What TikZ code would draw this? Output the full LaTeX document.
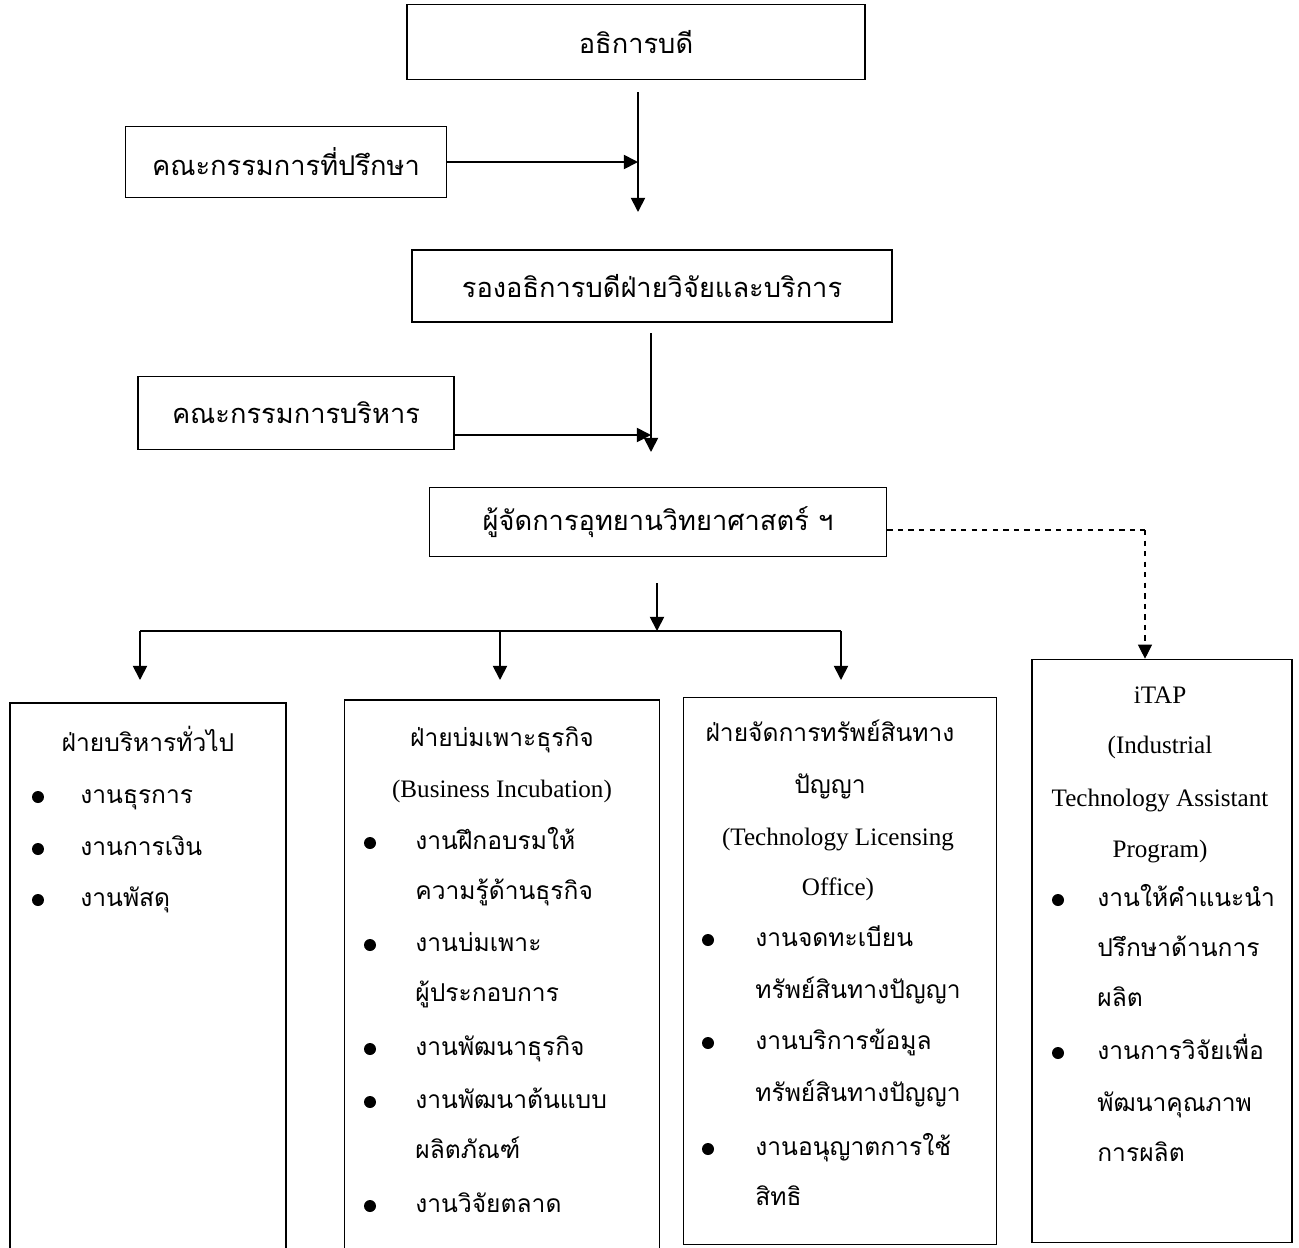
\documentclass[tikz,border=0pt]{standalone}
\usepackage{fontspec}
\setmainfont{Liberation Serif}
\newfontfamily\thaifont[Script=Thai]{Loma}
\usetikzlibrary{arrows.meta}

\begin{document}
\begin{tikzpicture}[x=0.02cm, y=-0.02cm,
    unit/.style={draw, line width=1pt, inner sep=0pt, font=\thaifont\fontsize{15.5}{18}\selectfont},
    division/.style={draw, line width=1pt, inner sep=0pt},
    thai/.style={inner sep=0pt, text height=7pt, text depth=0pt, font=\thaifont\fontsize{14}{16}\selectfont},
    eng/.style={inner sep=0pt, text height=7pt, text depth=0pt, font=\fontsize{14.3}{16}\selectfont},
    bullet/.style={circle, fill, inner sep=0pt, minimum size=0.24cm},
    arr/.style={line width=1pt, -{Triangle[length=8pt,width=8pt]}}]
   \useasboundingbox (0,0) rectangle (1299,1248);

   % upper chain
   \node[unit, minimum width=9.16cm, minimum height=1.5cm] (rector) at (636,42) {อธิการบดี};
   \node[unit, minimum width=6.42cm, minimum height=1.42cm] (advisor) at (286,162) {คณะกรรมการที่ปรึกษา};
   \node[unit, minimum width=9.6cm, minimum height=1.44cm] (vice) at (652,286) {รองอธิการบดีฝ่ายวิจัยและบริการ};
   \node[unit, minimum width=6.32cm, minimum height=1.46cm] (board) at (296,413) {คณะกรรมการบริหาร};
   \node[unit, minimum width=9.14cm, minimum height=1.38cm] (manager) at (658,522) {ผู้จัดการอุทยานวิทยาศาสตร์ ฯ};

   \coordinate (a1) at (638,92);
   \coordinate (a2) at (638,212);
   \coordinate (b1) at (651,333);
   \coordinate (b2) at (651,452);
   \coordinate (b3) at (651,435);
   \draw[arr] (a1) -- (a2);
   \draw[arr] (advisor.east) -- (advisor.east -| a2);
   \draw[arr] (b1) -- (b2);
   \draw[arr] (board.east |- b3) -- (b3);

   % divisions
   \node[division, minimum width=5.52cm, minimum height=11.2cm] (general) at (148,983) {};
   \node[division, minimum width=6.3cm, minimum height=11.2cm] (incub) at (502,980) {};
   \node[division, minimum width=6.26cm, minimum height=10.94cm] (tlo) at (840,971) {};
   \node[division, minimum width=5.2cm, minimum height=11.66cm] (itap) at (1162,951) {};

   \coordinate (c1) at (657,583);
   \coordinate (c2) at (657,631);
   \coordinate (c3) at (140,631);
   \coordinate (c4) at (841,631);
   \coordinate (c5) at (500,631);
   \coordinate (d1) at (1145,530);
   \draw[arr] (c1) -- (c2);
   \draw[line width=1pt] (c3) -- (c4);
   \draw[arr] (c3) -- (140,680);
   \draw[arr] (c5) -- (500,680);
   \draw[arr] (c4) -- (841,680);
   \draw[line width=0.6pt, dashed] (manager.east |- d1) -- (d1);
   \draw[line width=0.6pt, dashed, -{Triangle[length=8pt,width=8pt]}] (d1) -- (itap.north -| d1);

   % general administration
   \node[thai] (g0) at (148,745) {ฝ่ายบริหารทั่วไป};
   \node[bullet] (gb1) at (38,797) {};
   \node[bullet] (gb2) at (38,849) {};
   \node[bullet] (gb3) at (38,900) {};
   \node[thai, anchor=west] (g1) at (80,797) {งานธุรการ};
   \node[thai, anchor=west] (g2) at (80,849) {งานการเงิน};
   \node[thai, anchor=west] (g3) at (80,900) {งานพัสดุ};

   % business incubation
   \node[thai] (i0) at (502,740) {ฝ่ายบ่มเพาะธุรกิจ};
   \node[eng] (i1) at (502,791) {(Business Incubation)};
   \node[bullet] (ib1) at (370,843) {};
   \node[bullet] (ib2) at (370,945) {};
   \node[bullet] (ib3) at (370,1049) {};
   \node[bullet] (ib4) at (370,1102) {};
   \node[bullet] (ib5) at (370,1206) {};
   \node[thai, anchor=west] (i2) at (415,843) {งานฝึกอบรมให้};
   \node[thai, anchor=west] (i3) at (415,893) {ความรู้ด้านธุรกิจ};
   \node[thai, anchor=west] (i4) at (415,945) {งานบ่มเพาะ};
   \node[thai, anchor=west] (i5) at (415,995) {ผู้ประกอบการ};
   \node[thai, anchor=west] (i6) at (415,1049) {งานพัฒนาธุรกิจ};
   \node[thai, anchor=west] (i7) at (415,1102) {งานพัฒนาต้นแบบ};
   \node[thai, anchor=west] (i8) at (415,1152) {ผลิตภัณฑ์};
   \node[thai, anchor=west] (i9) at (415,1206) {งานวิจัยตลาด};

   % licensing office
   \node[thai] (t0) at (830,735) {ฝ่ายจัดการทรัพย์สินทาง};
   \node[thai] (t1) at (830,787) {ปัญญา};
   \node[eng] (t2) at (838,839) {(Technology Licensing};
   \node[eng] (t3) at (838,889) {Office)};
   \node[bullet] (tb1) at (708,940) {};
   \node[bullet] (tb2) at (708,1043) {};
   \node[bullet] (tb3) at (708,1149) {};
   \node[thai, anchor=west] (t4) at (755,940) {งานจดทะเบียน};
   \node[thai, anchor=west] (t5) at (755,992) {ทรัพย์สินทางปัญญา};
   \node[thai, anchor=west] (t6) at (755,1043) {งานบริการข้อมูล};
   \node[thai, anchor=west] (t7) at (755,1095) {ทรัพย์สินทางปัญญา};
   \node[thai, anchor=west] (t8) at (755,1149) {งานอนุญาตการใช้};
   \node[thai, anchor=west] (t9) at (755,1199) {สิทธิ};

   % iTAP
   \node[eng] (p0) at (1160,697) {iTAP};
   \node[eng] (p1) at (1160,747) {(Industrial};
   \node[eng] (p2) at (1160,800) {Technology Assistant};
   \node[eng] (p3) at (1160,851) {Program)};
   \node[bullet] (pb1) at (1058,900) {};
   \node[bullet] (pb2) at (1058,1053) {};
   \node[thai, anchor=west] (p4) at (1097,900) {งานให้คำแนะนำ};
   \node[thai, anchor=west] (p5) at (1097,950) {ปรึกษาด้านการ};
   \node[thai, anchor=west] (p6) at (1097,1000) {ผลิต};
   \node[thai, anchor=west] (p7) at (1097,1053) {งานการวิจัยเพื่อ};
   \node[thai, anchor=west] (p8) at (1097,1105) {พัฒนาคุณภาพ};
   \node[thai, anchor=west] (p9) at (1097,1155) {การผลิต};
 \end{tikzpicture}
\end{document}
